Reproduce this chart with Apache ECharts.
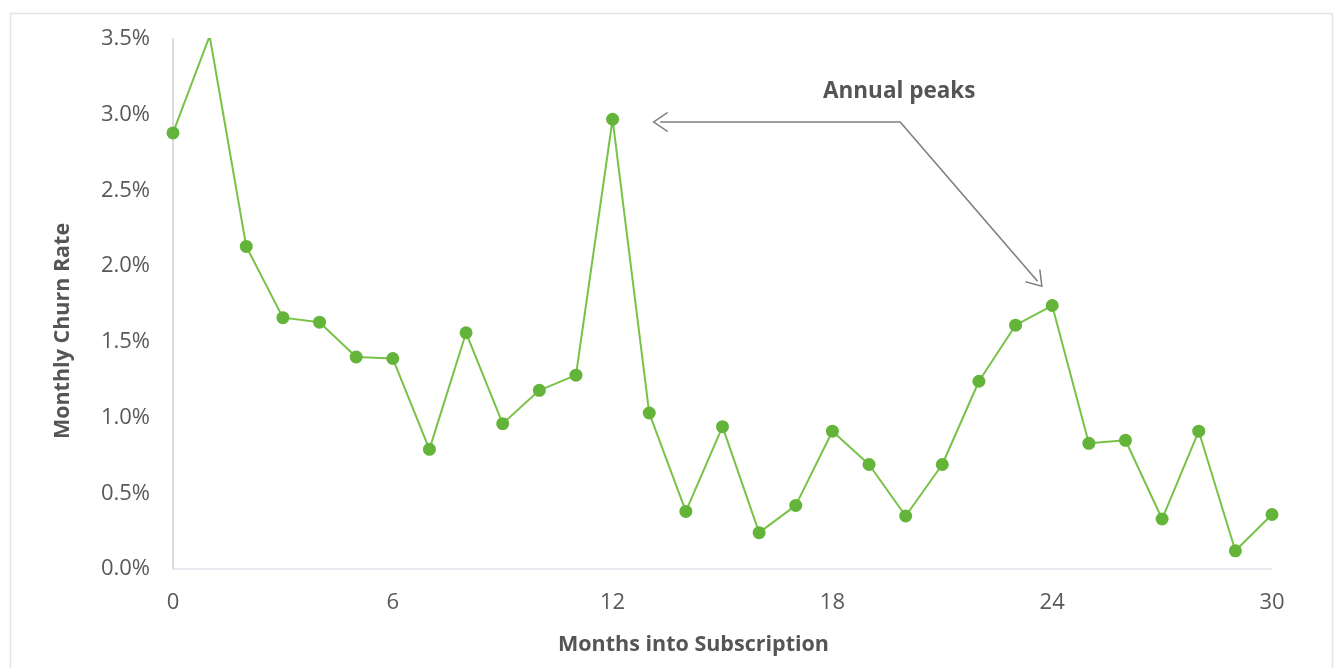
<!DOCTYPE html>
<html>
<head>
<meta charset="utf-8">
<script src="https://cdn.jsdelivr.net/npm/echarts@6/dist/echarts.min.js"></script>
<style>
html,body{margin:0;padding:0;background:#fff;}
#c{width:1340px;height:668px;}
</style>
</head>
<body>
<div id="c"></div>
<script>
const months = [0,1,2,3,4,5,6,7,8,9,10,11,12,13,14,15,16,17,18,19,20,21,22,23,24,25,26,27,28,29,30];
const churn = [2.88,3.52,2.13,1.66,1.63,1.40,1.39,0.79,1.56,0.96,1.18,1.28,2.97,1.03,0.38,0.94,0.24,0.42,0.91,0.69,0.35,0.69,1.24,1.61,1.74,0.83,0.85,0.33,0.91,0.12,0.36];
const yTicks = [0,0.5,1,1.5,2,2.5,3,3.5];
const annotationText = 'Annual peaks';
// arrow geometry in data space [month, churn%]
const arrowCorner = [19.85, 2.952];
const arrowEnd1 = [13.30, 2.952];
const arrowEnd2 = [23.60, 1.90];

const chart = echarts.init(document.getElementById('c'), null, {renderer:'canvas'});
const chevron = 'path://M10 0 L20 14.4 L18.9 15.4 L10 2.6 L1.1 15.4 L0 14.4 Z';
const gray = '#7f7f7f';
const titleFont = {fontFamily:'Open Sans',fontWeight:'bold',fontSize:21.5,color:'#555555'};
const option = {
  backgroundColor:'#fff',
  animation:false,
  grid:{left:173,right:68,top:39,bottom:99},
  graphic:[
    {type:'rect',left:8,top:11,shape:{width:1322,height:670},style:{fill:'none',stroke:'#e1e4ea',lineWidth:1.5},z:-1},
    {type:'text',left:823,top:80,style:{text:annotationText,font:'bold 22.5px "Open Sans"',fill:'#555555'}}
  ],
  xAxis:{
    type:'value',min:0,max:30,interval:6,
    name:'Months into Subscription',nameLocation:'middle',nameGap:65,
    nameTextStyle:Object.assign({padding:[0,58,0,0]},titleFont),
    axisLine:{show:true,lineStyle:{color:'#dfe3ea',width:1.5}},
    axisTick:{show:false},
    splitLine:{show:false},
    axisLabel:{fontFamily:'Open Sans',fontSize:22,color:'#595959',margin:23}
  },
  yAxis:{
    type:'value',min:0,max:3.5,interval:0.5,
    name:'Monthly Churn Rate',nameLocation:'middle',nameGap:99,
    nameTextStyle:Object.assign({padding:[0,54,0,0]},titleFont),
    axisLine:{show:true,lineStyle:{color:'#cfcfcf',width:1.5}},
    axisTick:{show:false},
    splitLine:{show:false},
    axisLabel:{fontFamily:'Open Sans',fontSize:22,color:'#595959',margin:23,
      formatter:v=>v.toFixed(1)+'%'}
  },
  series:[
    {
      type:'line',
      data:months.map((m,i)=>[m,churn[i]]),
      clip:true,
      symbol:'circle',symbolSize:13,
      showAllSymbol:true,
      lineStyle:{color:'#78c247',width:2},
      itemStyle:{color:'#63b439'},
      markLine:{
        silent:true,
        symbol:['none',chevron],
        symbolSize:[20,16],
        label:{show:false},
        lineStyle:{color:gray,width:1.6,type:'solid'},
        data:[
          [{coord:arrowCorner},{coord:arrowEnd1}],
          [{coord:arrowCorner},{coord:arrowEnd2}]
        ]
      }
    }
  ]
};
chart.setOption(option);
</script>
</body>
</html>
